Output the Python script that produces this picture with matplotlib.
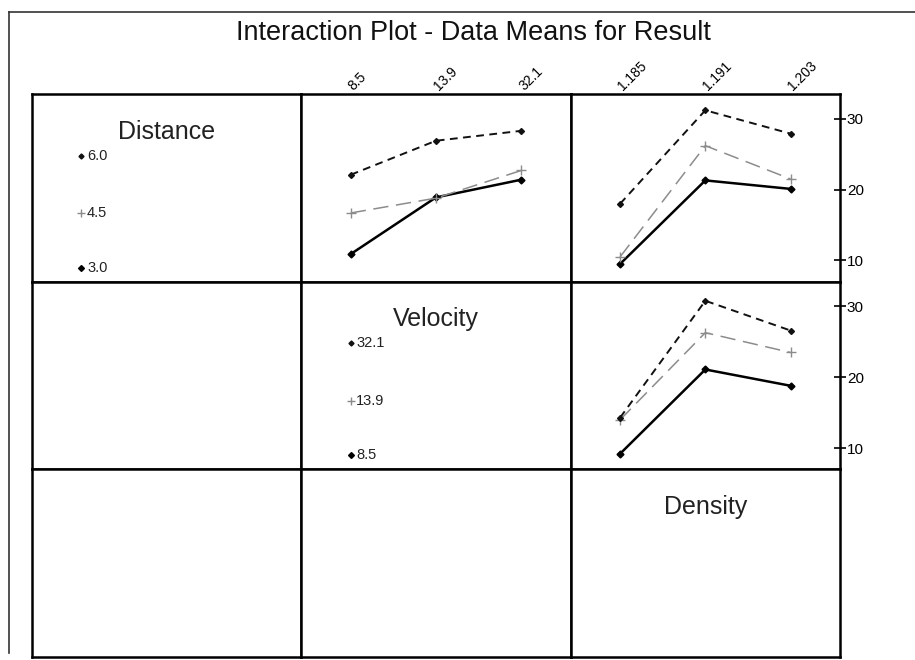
import matplotlib
matplotlib.use('Agg')
import matplotlib.pyplot as plt
from matplotlib.lines import Line2D

plt.rcParams['font.family'] = ['Liberation Sans', 'DejaVu Sans']

# factor levels
distance_levels = ['3.0', '4.5', '6.0']
velocity_levels = ['8.5', '13.9', '32.1']
density_levels = ['1.185', '1.191', '1.203']

# means of Result, one list per level of the trace factor
# Distance traces against Velocity
dist30_by_velocity = [10.9, 18.9, 21.4]
dist45_by_velocity = [16.7, 18.8, 22.7]
dist60_by_velocity = [22.1, 26.9, 28.3]
# Distance traces against Density
dist30_by_density = [9.5, 21.3, 20.1]
dist45_by_density = [10.5, 26.2, 21.5]
dist60_by_density = [18.0, 31.2, 27.9]
# Velocity traces against Density
vel85_by_density = [9.2, 21.1, 18.8]
vel139_by_density = [14.0, 26.3, 23.5]
vel321_by_density = [14.3, 30.8, 26.6]

right_ticks = [10, 20, 30]

GREY = '#8c8c8c'
# style for low / mid / high level
STYLES = [
    dict(color='black', lw=1.8, ls='-', marker='D', ms=3.5),
    dict(color=GREY, lw=1.1, dashes=(10, 5), marker='+', ms=7, mew=1.0),
    dict(color='#111111', lw=1.4, dashes=(4, 2.8), marker='D', ms=3.0),
]
LEGEND_Y = [9.0, 16.7, 24.8]   # where the level keys sit in a label panel
LABEL_Y = 28.2
XLIM = (0.42, 3.58)
YLIM = (7.0, 33.5)

W, H = 915, 660
fig = plt.figure(figsize=(W / 100, H / 100), dpi=100)
gs = fig.add_gridspec(3, 3, left=32 / W, right=840 / W, top=1 - 94 / H, bottom=1 - 657 / H,
                      hspace=0, wspace=0)

axes = [[fig.add_subplot(gs[r, c]) for c in range(3)] for r in range(3)]
for row in axes:
    for ax in row:
        ax.set_xlim(*XLIM)
        ax.set_ylim(*YLIM)
        ax.set_xticks([])
        ax.set_yticks([])
        for sp in ax.spines.values():
            sp.set_linewidth(1.8)


def draw_traces(ax, traces):
    xs = [1, 2, 3]
    for style, vals in zip(STYLES, traces):
        ax.plot(xs, vals, **style)


def draw_label_panel(ax, name, levels=None):
    ax.text(2, LABEL_Y, name, ha='center', va='center', fontsize=18, color='#222222')
    if levels is None:
        return
    for style, lev, y in zip(STYLES, levels, LEGEND_Y):
        ax.plot([1], [y], linestyle='none', marker=style['marker'], ms=style['ms'] * 0.85,
                color=style['color'], mew=style.get('mew', 1.0))
        ax.annotate(lev, (1, y), xytext=(4, 0), textcoords='offset points',
                    ha='left', va='center', fontsize=10.5, color='#222222')


draw_label_panel(axes[0][0], 'Distance', distance_levels)
draw_label_panel(axes[1][1], 'Velocity', velocity_levels)
draw_label_panel(axes[2][2], 'Density')

draw_traces(axes[0][1], [dist30_by_velocity, dist45_by_velocity, dist60_by_velocity])
draw_traces(axes[0][2], [dist30_by_density, dist45_by_density, dist60_by_density])
draw_traces(axes[1][2], [vel85_by_density, vel139_by_density, vel321_by_density])

# level labels along the top
for ax, labels in [(axes[0][1], velocity_levels), (axes[0][2], density_levels)]:
    ax.xaxis.tick_top()
    ax.set_xticks([1, 2, 3])
    ax.set_xticklabels(labels, rotation=45, ha='left', va='center', rotation_mode='anchor',
                       fontsize=10)
    ax.tick_params(axis='x', length=0, pad=4)

# Result scale on the right
for ax in [axes[0][2], axes[1][2]]:
    ax.yaxis.tick_right()
    ax.set_yticks(right_ticks)
    ax.tick_params(axis='y', direction='inout', length=8, width=1.2, labelsize=11, pad=1)

fig.text(473 / W, 1 - 33 / H, 'Interaction Plot - Data Means for Result', ha='center',
         va='center', fontsize=19.5, color='#111111')

# scanned page frame
fig.add_artist(Line2D([9 / W, 9 / W], [1 - 12 / H, 1 - 653 / H], transform=fig.transFigure,
                      color='#333333', lw=1.2))
fig.add_artist(Line2D([9 / W, 1.0], [1 - 12 / H, 1 - 12 / H], transform=fig.transFigure,
                      color='#333333', lw=1.2))

fig.savefig('out.png', dpi=100, facecolor='white')
